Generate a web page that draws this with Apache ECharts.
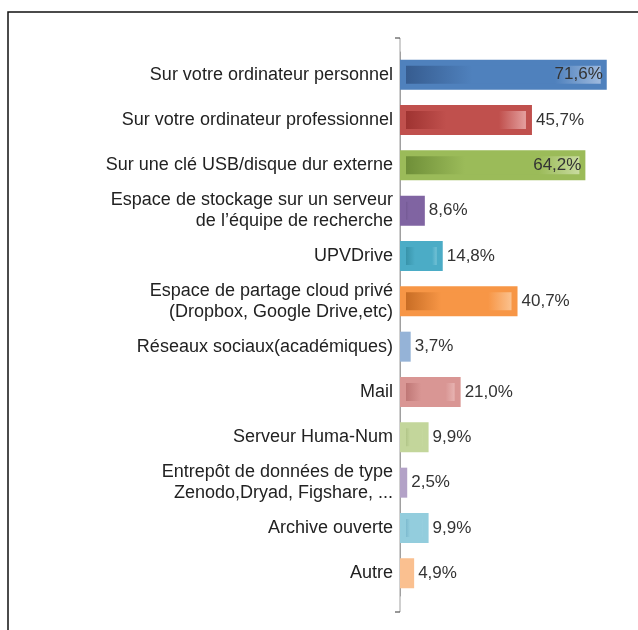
<!DOCTYPE html>
<html>
<head>
<meta charset="utf-8">
<script src="https://cdn.jsdelivr.net/npm/echarts@6/dist/echarts.min.js"></script>
<style>
  html, body { margin: 0; padding: 0; background: #fff; }
  #chart { width: 638px; height: 630px; }
</style>
</head>
<body>
<div id="chart"></div>
<script>
// lieux de stockage des données
const categories = [
  'Sur votre ordinateur personnel',
  'Sur votre ordinateur professionnel',
  'Sur une clé USB/disque dur externe',
  'Espace de stockage sur un serveur\nde l’équipe de recherche',
  'UPVDrive',
  'Espace de partage cloud privé\n(Dropbox, Google Drive,etc)',
  'Réseaux sociaux(académiques)',
  'Mail',
  'Serveur Huma-Num',
  'Entrepôt de données de type\nZenodo,Dryad, Figshare, ...',
  'Archive ouverte',
  'Autre'
]
const values = [71.6, 45.7, 64.2, 8.6, 14.8, 40.7, 3.7, 21.0, 9.9, 2.5, 9.9, 4.9]

// couleurs : [bordure, sombre, clair]
const colors = [
  ['#4f81bd', '#34598c', '#a9c1e2'],
  ['#c0504d', '#9a2f2d', '#ecb1b0'],
  ['#9bbb59', '#6a8a35', '#cfe0a9'],
  ['#8064a2', '#5b4479', '#b8a5d0'],
  ['#4bacc6', '#2b8397', '#a6dce9'],
  ['#f79646', '#c0661f', '#fccca0'],
  ['#95b3d7', '#7d9cc4', '#b4cae6'],
  ['#d99694', '#b56b6a', '#f0c6c5'],
  ['#c3d69b', '#97ad6c', '#dbe8c2'],
  ['#b3a2c7', '#9280ab', '#c9bcd9'],
  ['#93cddd', '#5c9fba', '#bde3ee'],
  ['#fac090', '#e39a60', '#fcd3b0']
]

const chart = echarts.init(document.getElementById('chart'))

const barData = values.map((v, i) => {
  const c = colors[i]
  return {
    value: v,
    itemStyle: {
      color: new echarts.graphic.LinearGradient(0, 0, 1, 0, [
        {offset: 0, color: c[1]},
        {offset: 0.35, color: c[0]},
        {offset: 0.75, color: c[0]},
        {offset: 1, color: c[2]}
      ]),
      borderColor: c[0],
      borderWidth: 6
    },
    label: {position: v > 60 ? 'insideRight' : 'right'}
  }
})

chart.setOption({
  animation: false,
  grid: {left: 400, top: 52, bottom: 34, width: 231},
  xAxis: {
    type: 'value',
    min: 0,
    max: 80,
    show: false
  },
  yAxis: {
    type: 'category',
    inverse: true,
    data: categories,
    axisLine: {lineStyle: {color: '#a0a0a0'}},
    axisTick: {alignWithLabel: true, length: 5, lineStyle: {color: '#333'}},
    axisLabel: {
      color: '#222',
      fontFamily: 'Liberation Sans',
      fontSize: 18,
      lineHeight: 21,
      margin: 7
    }
  },
  series: [{
    type: 'bar',
    data: barData,
    barWidth: 30,
    label: {
      show: true,
      color: '#333',
      fontFamily: 'Liberation Sans',
      fontSize: 17,
      distance: 4,
      formatter: p => p.value.toFixed(1).replace('.', ',') + '%'
    }
  }],
  graphic: [
    {type: 'rect', shape: {x: 8, y: 12, width: 660, height: 660}, style: {fill: 'none', stroke: '#111', lineWidth: 1.5}},
    {type: 'line', shape: {x1: 400, y1: 38, x2: 400, y2: 612}, style: {stroke: '#a0a0a0', lineWidth: 1}},
    {type: 'line', shape: {x1: 395, y1: 38, x2: 400, y2: 38}, style: {stroke: '#333', lineWidth: 1}},
    {type: 'line', shape: {x1: 395, y1: 612, x2: 400, y2: 612}, style: {stroke: '#333', lineWidth: 1}}
  ]
})
</script>
</body>
</html>
